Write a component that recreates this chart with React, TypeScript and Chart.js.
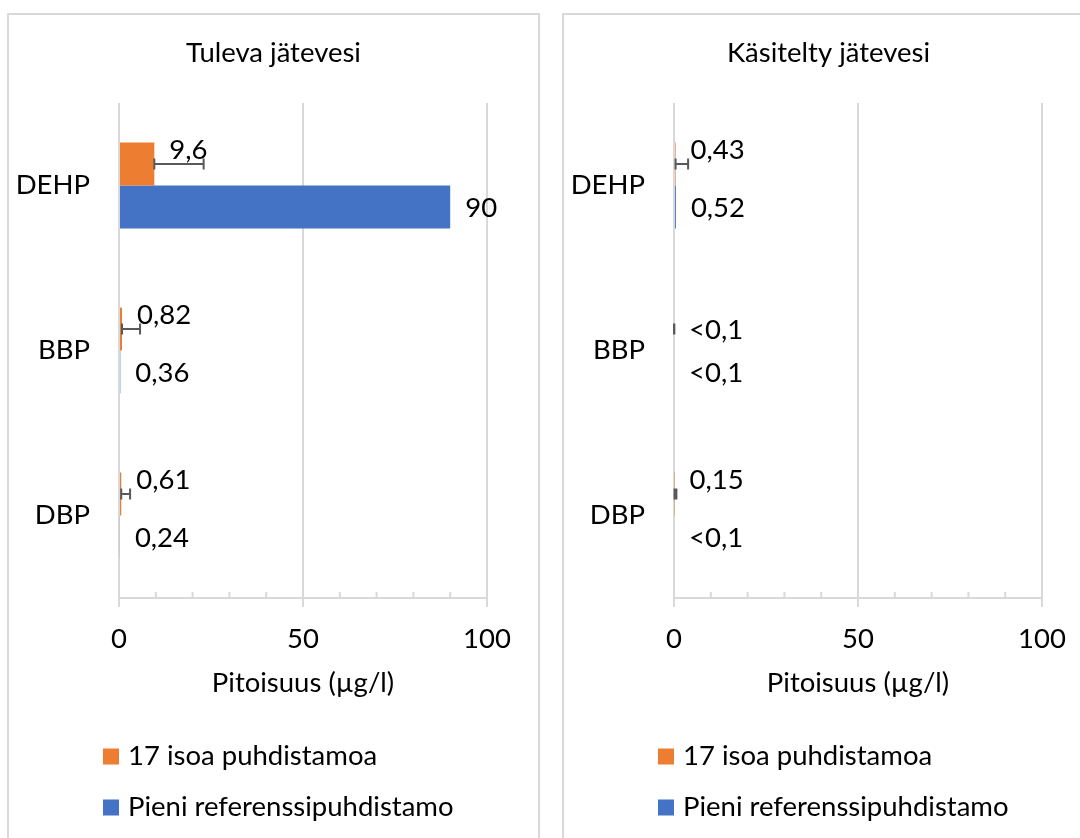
import React, { useEffect, useRef } from "react";
import { Chart, registerables } from "chart.js";

Chart.register(...registerables);

// ---------- data ----------
const categories = ["DEHP", "BBP", "DBP"];
const seriesNames = ["17 isoa puhdistamoa", "Pieni referenssipuhdistamo"];
const seriesColors = ["#ED7D31", "#4472C4"];

const influentTitle = "Tuleva jätevesi";
const influentLarge = [9.6, 0.82, 0.61];
const influentLargeErr = [13.4, 4.9, 2.4];
const influentSmall = [90, 0.36, 0.24];
const influentLargeLabels = ["9,6", "0,82", "0,61"];
const influentSmallLabels = ["90", "0,36", "0,24"];

const effluentTitle = "Käsitelty jätevesi";
const effluentLarge = [0.43, 0, 0.15];
const effluentLargeErr = [3.4, 0.1, 0.5];
const effluentSmall = [0.52, 0, 0];
const effluentLargeLabels = ["0,43", "<0,1", "0,15"];
const effluentSmallLabels = ["0,52", "<0,1", "<0,1"];

const xTicks = [0, 50, 100];
const xMinorStep = 10;
const axisTitle = "Pitoisuus (µg/l)";

// ---------- style ----------
const FONT = "Lato, 'Open Sans', sans-serif";
const FS = 27.5;
const TEXT = "#000000";
const GRID = "#d9d9d9";
const ERR = "#595959";
const CW = 529;
const CH = 823;

type PanelProps = {
  title: string;
  large: number[];
  largeErr: number[];
  small: number[];
  largeLabels: string[];
  smallLabels: string[];
};

function Panel(props: PanelProps) {
  const ref = useRef<HTMLCanvasElement | null>(null);

  useEffect(() => {
    if (!ref.current) return;
    const { title, large, largeErr, small, largeLabels, smallLabels } = props;
    const labelSets = [largeLabels, smallLabels];
    const font = { family: FONT, size: FS };
    const capH = FS * 0.72;

    const custom = {
      id: "custom",
      beforeDatasetsDraw(chart: any) {
        const ctx = chart.ctx;
        const xs = chart.scales.x;
        const y0 = chart.chartArea.bottom;
        ctx.save();
        ctx.strokeStyle = GRID;
        ctx.lineWidth = 2;
        for (let v = xs.min + xMinorStep; v < xs.max; v += xMinorStep) {
          if (xTicks.includes(v)) continue;
          const px = xs.getPixelForValue(v);
          ctx.beginPath();
          ctx.moveTo(px, y0 - 6);
          ctx.lineTo(px, y0);
          ctx.stroke();
        }
        ctx.restore();
      },
      afterDatasetsDraw(chart: any) {
        const ctx = chart.ctx;
        const xs = chart.scales.x;
        ctx.save();
        // error bars on first series
        const meta0 = chart.getDatasetMeta(0);
        ctx.strokeStyle = ERR;
        ctx.lineWidth = 2;
        meta0.data.forEach((bar: any, i: number) => {
          const v = large[i];
          const e = largeErr[i];
          const xa = xs.getPixelForValue(v);
          const xb = xs.getPixelForValue(v + e);
          const y = bar.y;
          ctx.beginPath();
          ctx.moveTo(xa, y);
          ctx.lineTo(xb, y);
          ctx.moveTo(xa, y - 5.5);
          ctx.lineTo(xa, y + 5.5);
          ctx.moveTo(xb, y - 5.5);
          ctx.lineTo(xb, y + 5.5);
          ctx.stroke();
        });
        // data labels
        ctx.fillStyle = TEXT;
        ctx.font = `${FS}px ${FONT}`;
        ctx.textAlign = "left";
        ctx.textBaseline = "alphabetic";
        chart.data.datasets.forEach((ds: any, di: number) => {
          const meta = chart.getDatasetMeta(di);
          meta.data.forEach((bar: any, i: number) => {
            const v = ds.data[i];
            const px = xs.getPixelForValue(v);
            let cy = bar.y;
            if (di === 0 && largeErr[i] >= 0.3) cy -= 15;
            ctx.fillText(labelSets[di][i], px + 15, cy + capH / 2);
          });
        });
        ctx.restore();
      },
      afterDraw(chart: any) {
        const ctx = chart.ctx;
        const area = chart.chartArea;
        ctx.save();
        ctx.fillStyle = TEXT;
        ctx.font = `${FS}px ${FONT}`;
        ctx.textBaseline = "alphabetic";
        // title
        ctx.textAlign = "center";
        ctx.fillText(title, chart.width / 2, 47);
        // axis title
        ctx.fillText(axisTitle, (area.left + area.right) / 2, 677);
        // legend
        ctx.textAlign = "left";
        chart.data.datasets.forEach((ds: any, di: number) => {
          const base = 750 + di * 51;
          ctx.fillStyle = seriesColors[di];
          ctx.fillRect(area.left - 16, base - 16.5, 16, 16);
          ctx.fillStyle = TEXT;
          ctx.fillText(ds.label, area.left + 9, base);
        });
        ctx.restore();
      },
    };

    const chart = new Chart(ref.current, {
      type: "bar",
      data: {
        labels: categories,
        datasets: [
          {
            label: seriesNames[0],
            data: large,
            backgroundColor: seriesColors[0],
            borderWidth: 0,
            categoryPercentage: 0.52,
            barPercentage: 1,
          },
          {
            label: seriesNames[1],
            data: small,
            backgroundColor: seriesColors[1],
            borderWidth: 0,
            categoryPercentage: 0.52,
            barPercentage: 1,
          },
        ],
      },
      options: {
        indexAxis: "y",
        animation: false,
        responsive: false,
        maintainAspectRatio: false,
        events: [],
        layout: { padding: { left: 0, right: 51, top: 88, bottom: 0 } },
        plugins: {
          legend: { display: false },
          title: { display: false },
          tooltip: { enabled: false },
        },
        scales: {
          x: {
            type: "linear",
            min: 0,
            max: 100,
            afterBuildTicks: (s: any) => {
              s.ticks = xTicks.map((v) => ({ value: v }));
            },
            ticks: { font, color: TEXT, padding: 16, maxRotation: 0 },
            grid: { color: GRID, lineWidth: 2, tickLength: 9, drawTicks: true },
            border: { display: true, color: GRID, width: 2 },
            afterFit: (s: any) => {
              s.height = 240;
            },
          },
          y: {
            grid: { display: false, drawTicks: false },
            border: { display: false },
            ticks: { font, color: TEXT, padding: 29 },
            afterFit: (s: any) => {
              s.width = 110;
            },
          },
        },
      } as any,
      plugins: [custom as any],
    });
    return () => chart.destroy();
  }, []);

  return <canvas ref={ref} width={CW} height={CH} style={{ display: "block", width: CW, height: CH }} />;
}

export default function App() {
  const panelStyle = (left: number): React.CSSProperties => ({
    position: "absolute",
    left,
    top: 13,
    width: 533,
    height: 900,
    boxSizing: "border-box",
    border: `2px solid ${GRID}`,
    background: "#fff",
    overflow: "hidden",
  });
  return (
    <div
      style={{
        position: "fixed",
        left: 0,
        top: 0,
        width: 1080,
        height: 838,
        overflow: "hidden",
        background: "#fff",
      }}
    >
      <div style={panelStyle(7)}>
        <Panel
          title={influentTitle}
          large={influentLarge}
          largeErr={influentLargeErr}
          small={influentSmall}
          largeLabels={influentLargeLabels}
          smallLabels={influentSmallLabels}
        />
      </div>
      <div style={panelStyle(562)}>
        <Panel
          title={effluentTitle}
          large={effluentLarge}
          largeErr={effluentLargeErr}
          small={effluentSmall}
          largeLabels={effluentLargeLabels}
          smallLabels={effluentSmallLabels}
        />
      </div>
    </div>
  );
}
